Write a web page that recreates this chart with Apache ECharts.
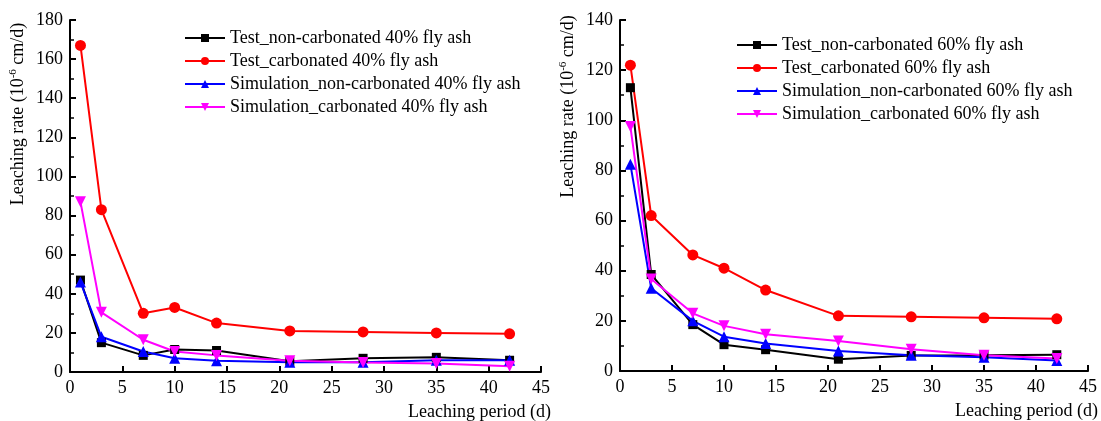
<!DOCTYPE html>
<html>
<head>
<meta charset="utf-8">
<script src="https://cdn.jsdelivr.net/npm/echarts@6/dist/echarts.min.js"></script>
<style>
  html, body { margin: 0; padding: 0; background: #fff; }
  #chart { width: 1101px; height: 421px; }
</style>
</head>
<body>
<div id="chart"></div>
<script>
// Leaching period (days)
const days = [1, 3, 7, 10, 14, 21, 28, 35, 42];

// 40% fly ash
const test40Non = [47, 15, 8.5, 11.5, 11, 5.5, 7, 7.5, 6];
const test40Carb = [167, 83, 30, 33, 25, 21, 20.5, 20, 19.5];
const sim40Non = [46, 18, 10.5, 7, 5.8, 5, 5, 6, 6];
const sim40Carb = [87, 30.5, 16.5, 10.5, 8.5, 5.8, 4.8, 4.4, 3];

// 60% fly ash
const test60Non = [113, 38.5, 18.5, 10.5, 8.5, 4.7, 6.2, 6.3, 6.5];
const test60Carb = [122, 62, 46.3, 41, 32.3, 22, 21.6, 21.2, 20.8];
const sim60Non = [82.5, 33, 20, 13.7, 11, 8, 6.3, 5.5, 4.2];
const sim60Carb = [97.5, 36.7, 23, 18, 14.7, 12, 8.7, 6.3, 5];

const names40 = [
  'Test_non-carbonated 40% fly ash',
  'Test_carbonated 40% fly ash',
  'Simulation_non-carbonated 40% fly ash',
  'Simulation_carbonated 40% fly ash'
];
const names60 = [
  'Test_non-carbonated 60% fly ash',
  'Test_carbonated 60% fly ash',
  'Simulation_non-carbonated 60% fly ash',
  'Simulation_carbonated 60% fly ash'
];

const colors = ['#000000', '#ff0000', '#0000ff', '#ff00ff'];
const symbols = ['rect', 'circle', 'triangle', 'triangle'];
const symbolSizes = [9, 11, 11, 11];
const symbolRotates = [0, 0, 0, 180];

const FONT = 'Liberation Serif';

function pairs(vals) {
  return days.map((d, i) => [d, vals[i]]);
}

function makeSeries(name, vals, k, axisIdx) {
  return {
    name: name,
    type: 'line',
    xAxisIndex: axisIdx,
    yAxisIndex: axisIdx,
    data: pairs(vals),
    symbol: symbols[k],
    symbolSize: symbolSizes[k],
    symbolRotate: symbolRotates[k],
    showAllSymbol: true,
    lineStyle: { color: colors[k], width: 2 },
    itemStyle: { color: colors[k] },
    animation: false,
    z: k === 1 ? 2 : 3
  };
}

function xAxis(gridIndex) {
  return {
    type: 'value',
    gridIndex: gridIndex,
    min: 0, max: 45, interval: 5,
    name: 'Leaching period (d)',
    nameLocation: 'end',
    nameGap: -133,
    nameTextStyle: {
      fontFamily: FONT, fontSize: 18, color: '#000',
      align: 'left', verticalAlign: 'top', padding: [31, 0, 0, 0]
    },
    axisLine: { lineStyle: { color: '#000', width: 2 } },
    axisTick: { inside: true, length: 6, lineStyle: { color: '#000', width: 2 } },
    axisLabel: { fontFamily: FONT, fontSize: 18, color: '#000', margin: 7 },
    splitLine: { show: false }
  };
}

// shift: how far the rotated title sits above the axis middle
function yAxis(gridIndex, max, shift) {
  return {
    type: 'value',
    gridIndex: gridIndex,
    min: 0, max: max, interval: 20,
    name: 'Leaching rate (10{sup|-6} cm/d)',
    nameLocation: 'middle',
    nameRotate: 90,
    nameGap: 42,
    nameTextStyle: {
      fontFamily: FONT, fontSize: 18, color: '#000',
      padding: [0, 0, 0, shift * 2],
      rich: {
        sup: { fontFamily: FONT, fontSize: 11, color: '#000', verticalAlign: 'top', padding: [0, 0, 9, 0] }
      }
    },
    axisLine: { show: true, lineStyle: { color: '#000', width: 2 } },
    axisTick: { inside: true, length: 6, lineStyle: { color: '#000', width: 2 } },
    minorTick: { show: true, splitNumber: 2, length: 4, lineStyle: { color: '#000', width: 1.5 } },
    axisLabel: { fontFamily: FONT, fontSize: 18, color: '#000', margin: 7 },
    splitLine: { show: false }
  };
}

function legend(names, left, top) {
  return {
    data: names,
    orient: 'vertical',
    left: left,
    top: top,
    itemWidth: 40,
    itemHeight: 10,
    itemGap: 5,
    textStyle: { fontFamily: FONT, fontSize: 18, color: '#000' },
    inactiveColor: '#ccc'
  };
}

const chart = echarts.init(document.getElementById('chart'), null, { renderer: 'canvas' });

chart.setOption({
  backgroundColor: '#ffffff',
  animation: false,
  grid: [
    { left: 70, top: 20, width: 471, height: 352 },
    { left: 620, top: 20, width: 468, height: 351 }
  ],
  legend: [legend(names40, 179, 24), legend(names60, 731, 31)],
  xAxis: [xAxis(0), xAxis(1)],
  yAxis: [yAxis(0, 180, 82), yAxis(1, 140, 89)],
  series: [
    makeSeries(names40[0], test40Non, 0, 0),
    makeSeries(names40[1], test40Carb, 1, 0),
    makeSeries(names40[2], sim40Non, 2, 0),
    makeSeries(names40[3], sim40Carb, 3, 0),
    makeSeries(names60[0], test60Non, 0, 1),
    makeSeries(names60[1], test60Carb, 1, 1),
    makeSeries(names60[2], sim60Non, 2, 1),
    makeSeries(names60[3], sim60Carb, 3, 1)
  ]
});
</script>
</body>
</html>
